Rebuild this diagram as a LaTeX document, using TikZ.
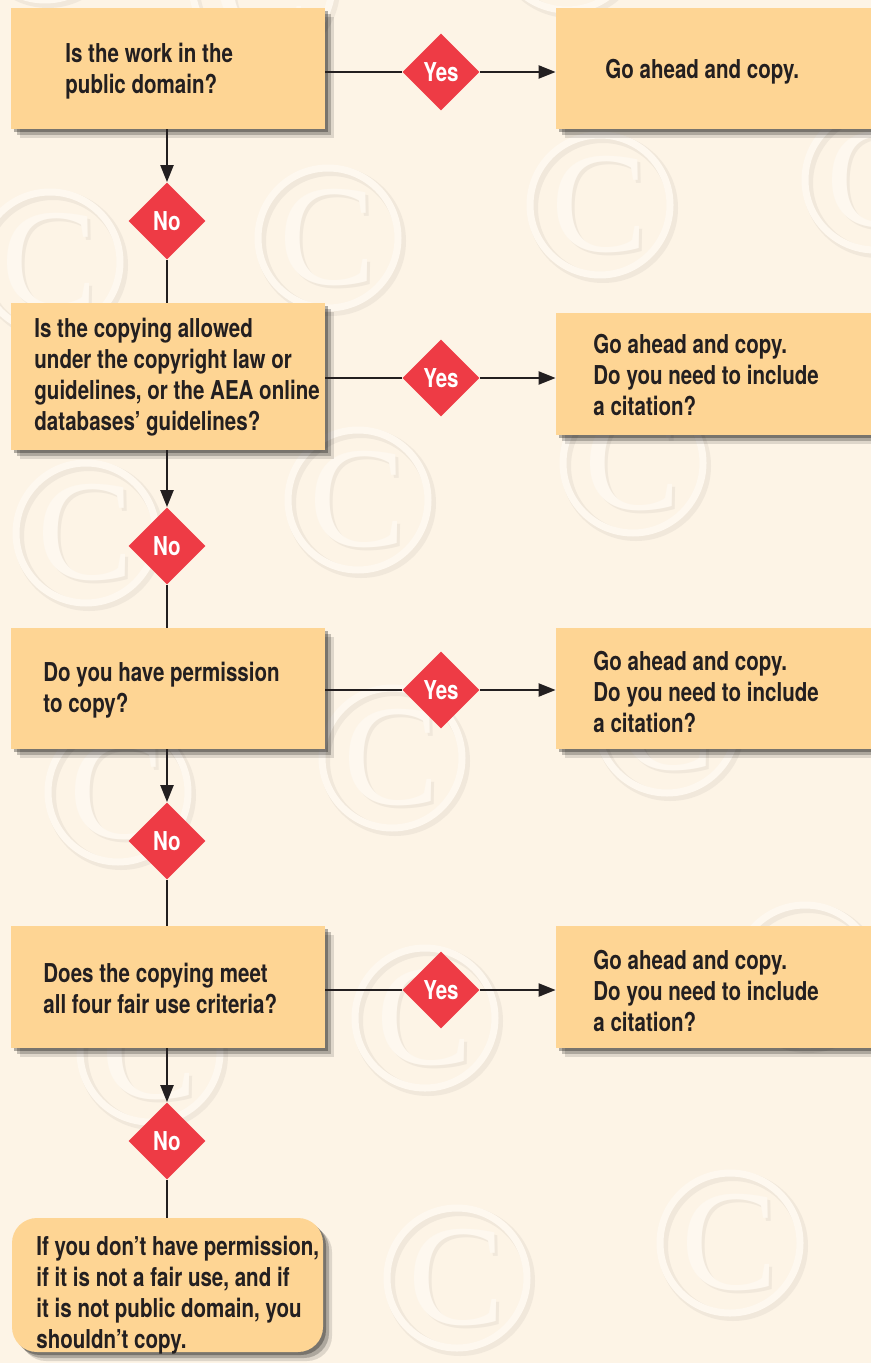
\documentclass[tikz,border=0pt]{standalone}
\usepackage{fontspec}
\setmainfont{TeX Gyre Heros}[FakeStretch=0.79]
\newfontfamily\markfont{Liberation Serif}
\usetikzlibrary{shapes.geometric, arrows.meta, shadows}
\definecolor{paper}{HTML}{FDF4E6}
\definecolor{boxfill}{HTML}{FED594}
\definecolor{flag}{HTML}{EE3B45}
\definecolor{ink}{HTML}{231F20}
\definecolor{wmlight}{HTML}{FEF8EF}
\definecolor{wmshade}{HTML}{F1E8DB}

\begin{document}
\begin{tikzpicture}[x=0.5pt, y=-0.5pt,
  boxshadow/.style={drop shadow={shadow xshift=4.5pt, shadow yshift=-4.5pt, opacity=.12, fill=black},
                    drop shadow={shadow xshift=3pt, shadow yshift=-3pt, opacity=.22, fill=black},
                    drop shadow={shadow xshift=1.5pt, shadow yshift=-1.5pt, opacity=.3, fill=black}},
  qbox/.style={fill=boxfill, minimum width=157pt, inner sep=0pt, boxshadow},
  gobox/.style={fill=boxfill, minimum width=158pt, inner sep=0pt, boxshadow},
  qtext/.style={anchor=west, align=left, inner sep=0pt, text=ink, font=\fontsize{13}{15.5}\selectfont\bfseries},
  flagnode/.style={diamond, fill=flag, text=white, minimum width=38.5pt, minimum height=38.5pt, inner sep=0pt,
                   font=\fontsize{13}{15.5}\selectfont\bfseries},
  link/.style={draw=ink, line width=1.1pt},
  arr/.style={link, -{Triangle[length=8.5pt, width=6.5pt]}},
  wmletter/.style={inner sep=0pt, font=\markfont\fontsize{72}{72}\selectfont}]

\useasboundingbox (0,0) rectangle (871,1363);
\clip (0,0) rectangle (871,1363);
\fill[paper] (0,0) rectangle (871,1363);

% faint copyright marks behind the chart
\foreach \cx/\cy [count=\i] in {45/-70, 262/-15, 567/-60, 50/262, 328/238, 600/205, 875/180, 86/533,
    358/500, 633/463, 118/792, 392/758, 667/723, 805/975, 150/1052, 425/1018, 457/1278, 730/1243}{
  \draw[wmshade, line width=5pt] (\cx+3,\cy+3) circle [radius=35pt];
  \draw[wmlight, line width=3.5pt] (\cx,\cy) circle [radius=35pt];
  \node[wmletter, text=wmshade] (wms\i) at (\cx+3,\cy+3) {C};
  \node[wmletter, text=wmlight] (wm\i) at (\cx,\cy) {C};
}

% question boxes down the left
\node[qbox, minimum height=60.5pt] (q1) at (168,68.5) {};
\node[qbox, minimum height=73.5pt] (q2) at (168,376.5) {};
\node[qbox, minimum height=60.5pt] (q3) at (168,688.5) {};
\node[qbox, minimum height=61pt] (q4) at (168,987) {};
\node[qbox, minimum width=155.5pt, minimum height=67pt, rounded corners=12.5pt] (q5) at (167.5,1285) {};

\node[qtext] (q1t) at (65,71) {Is the work in the\\public domain?};
\node[qtext] (q2t) at (34,377) {Is the copying allowed\\under the copyright law or\\guidelines, or the AEA online\\databases’ guidelines?};
\node[qtext] (q3t) at (43,690) {Do you have permission\\to copy?};
\node[qtext] (q4t) at (43,988) {Does the copying meet\\all four fair use criteria?};
\node[qtext] (q5t) at (36,1295) {If you don’t have permission,\\if it is not a fair use, and if\\it is not public domain, you\\shouldn’t copy.};

% answer boxes on the right
\node[gobox, minimum height=60.5pt] (a1) at (714,68.5) {};
\node[gobox, minimum height=61pt] (a2) at (714,374) {};
\node[gobox, minimum height=60.5pt] (a3) at (714,688.5) {};
\node[gobox, minimum height=61pt] (a4) at (714,987) {};

\node[qtext] (a1t) at (605,72) {Go ahead and copy.};
\node[qtext] (a2t) at (593,375) {Go ahead and copy.\\Do you need to include\\a citation?};
\node[qtext] (a3t) at (593,692) {Go ahead and copy.\\Do you need to include\\a citation?};
\node[qtext] (a4t) at (593,991) {Go ahead and copy.\\Do you need to include\\a citation?};

% yes / no flags
\node[flagnode] (y1) at (441,72) {Yes};
\node[flagnode] (y2) at (441,378) {Yes};
\node[flagnode] (y3) at (441,690) {Yes};
\node[flagnode] (y4) at (441,990) {Yes};
\node[flagnode] (n1) at (167,221) {No};
\node[flagnode] (n2) at (167,546) {No};
\node[flagnode] (n3) at (167,841) {No};
\node[flagnode] (n4) at (167,1141) {No};

\foreach \k in {1,2,3,4}{
  \draw[link] (y\k -| q\k.east) -- (y\k);
  \draw[arr] (y\k) -- (y\k -| a\k.west);
  \draw[arr] (q\k.south -| n\k) -- (n\k);
}
\draw[link] (n1) -- (n1 |- q2.north);
\draw[link] (n2) -- (n2 |- q3.north);
\draw[link] (n3) -- (n3 |- q4.north);
\draw[link] (n4) -- (n4 |- q5.north);

\end{tikzpicture}
\end{document}
